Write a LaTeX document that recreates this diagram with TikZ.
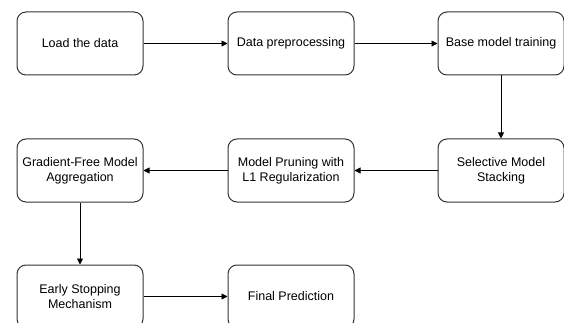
\documentclass[tikz,border=0pt]{standalone}
\usepackage{fontspec}
\setmainfont{Liberation Sans}
\usetikzlibrary{arrows.meta}
\begin{document}
\begin{tikzpicture}[x=1pt,y=-1pt,
  box/.style={draw=black!80, line width=1pt, rounded corners=9pt, minimum width=126pt, minimum height=63pt, align=center, font=\fontsize{12.5}{15}\selectfont, inner sep=2pt, fill=white},
  conn/.style={draw=black, line width=0.9pt, -{Triangle[length=6pt,width=6pt]}}]
\useasboundingbox (0,0) rectangle (564,323);
\clip (0,0) rectangle (564,323);
\node[box] (load) at (80,43.5) {Load the data};
\node[box] (prep) at (291,43.5) {Data preprocessing};
\node[box] (base) at (501,43.5) {Base model training};
\node[box] (sel) at (501,170.5) {Selective Model\\Stacking};
\node[box] (prune) at (291,170.5) {Model Pruning with\\L1 Regularization};
\node[box] (grad) at (80,170.5) {Gradient-Free Model\\Aggregation};
\node[box] (early) at (80,296.5) {Early Stopping\\Mechanism};
\node[box] (final) at (291,296.5) {Final Prediction};
\draw[conn] (load) -- (prep);
\draw[conn] (prep) -- (base);
\draw[conn] (base) -- (sel);
\draw[conn] (sel) -- (prune);
\draw[conn] (prune) -- (grad);
\draw[conn] (grad) -- (early);
\draw[conn] (early) -- (final);
\end{tikzpicture}
\end{document}
